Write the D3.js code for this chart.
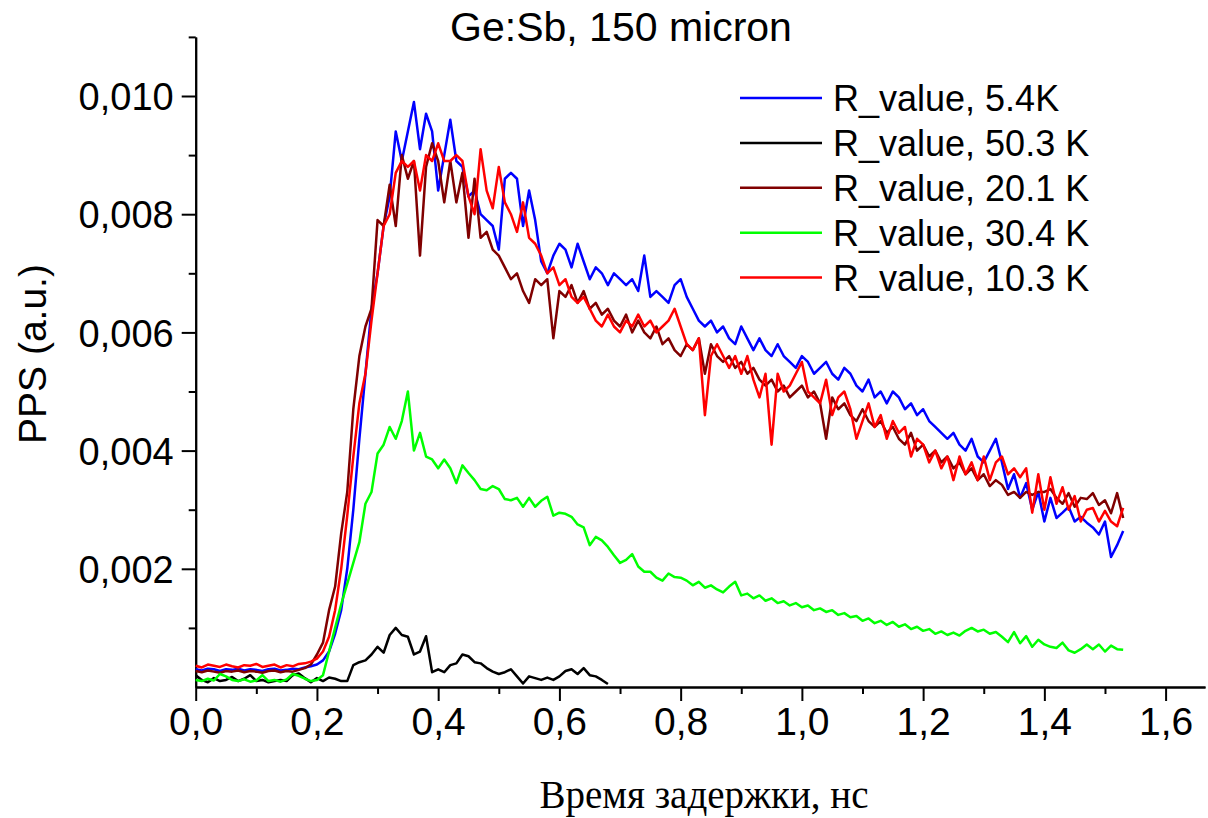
<!DOCTYPE html>
<html lang="ru">
<head>
<meta charset="UTF-8" />
<title>Ge:Sb, 150 micron</title>
<script src="https://cdn.jsdelivr.net/npm/d3@7"></script>
<style>
  body { margin: 0; background: #fff; }
  text { font-family: "Liberation Sans", Arial, sans-serif; fill: #000; }
  .axis path, .axis line { stroke: #000; stroke-width: 2px; }
  .series { fill: none; stroke-width: 2.5px; stroke-linejoin: round; }
</style>
</head>
<body>
<svg id="chart" width="1208" height="818"></svg>
<script>
// delay time, ns
var delay = [
  0.00,0.01,0.02,0.03,0.04,0.05,0.06,0.07,0.08,0.09,
  0.10,0.11,0.12,0.13,0.14,0.15,0.16,0.17,0.18,0.19,
  0.20,0.21,0.22,0.23,0.24,0.25,0.26,0.27,0.28,0.29,
  0.30,0.31,0.32,0.33,0.34,0.35,0.36,0.37,0.38,0.39,
  0.40,0.41,0.42,0.43,0.44,0.45,0.46,0.47,0.48,0.49,
  0.50,0.51,0.52,0.53,0.54,0.55,0.56,0.57,0.58,0.59,
  0.60,0.61,0.62,0.63,0.64,0.65,0.66,0.67,0.68,0.69,
  0.70,0.71,0.72,0.73,0.74,0.75,0.76,0.77,0.78,0.79,
  0.80,0.81,0.82,0.83,0.84,0.85,0.86,0.87,0.88,0.89,
  0.90,0.91,0.92,0.93,0.94,0.95,0.96,0.97,0.98,0.99,
  1.00,1.01,1.02,1.03,1.04,1.05,1.06,1.07,1.08,1.09,
  1.10,1.11,1.12,1.13,1.14,1.15,1.16,1.17,1.18,1.19,
  1.20,1.21,1.22,1.23,1.24,1.25,1.26,1.27,1.28,1.29,
  1.30,1.31,1.32,1.33,1.34,1.35,1.36,1.37,1.38,1.39,
  1.40,1.41,1.42,1.43,1.44,1.45,1.46,1.47,1.48,1.49,
  1.50,1.51,1.52,1.53
];

// PPS values, in units of 1e-3
var pps54 = [
  0.30,0.28,0.31,0.30,0.27,0.30,0.29,0.31,0.28,0.30,0.29,0.27,0.30,0.31,0.28,0.29,0.31,0.30,0.33,0.35,
  0.38,0.45,0.6,0.9,1.3,2.0,3.0,4.2,5.3,6.4,
  7.0,7.8,8.3,9.4,8.9,9.4,9.9,9.1,9.7,9.4,
  8.4,9.0,9.6,8.9,8.8,8.3,8.4,8.0,7.9,7.8,
  7.4,8.6,8.7,8.6,7.8,8.4,7.9,7.2,7.0,7.3,
  7.5,7.4,7.1,7.5,7.2,6.9,7.1,7.0,6.8,7.0,
  6.9,6.8,6.9,6.7,7.3,6.6,6.7,6.6,6.5,6.8,
  6.9,6.6,6.4,6.2,6.1,6.2,6.0,6.1,5.9,5.8,
  6.1,5.9,5.7,5.9,5.7,5.6,5.8,5.6,5.5,5.4,
  5.6,5.5,5.3,5.4,5.5,5.3,5.2,5.4,5.3,5.1,
  5.0,5.2,4.9,5.0,4.8,5.0,4.9,4.7,4.8,4.6,
  4.7,4.5,4.4,4.3,4.2,4.3,4.1,4.0,4.2,3.9,
  3.8,4.0,4.2,3.8,3.35,3.6,3.2,3.45,3.0,3.3,
  2.8,3.2,2.86,2.95,3.05,2.8,2.88,2.78,2.7,2.58,
  2.8,2.2,2.4,2.64
];

var pps503 = [
  0.20,0.12,0.08,0.15,0.10,0.12,0.17,0.10,0.14,0.20,
  0.10,0.12,0.08,0.10,0.12,0.10,0.20,0.23,0.15,0.08,
  0.15,0.10,0.16,0.14,0.10,0.10,0.37,0.42,0.45,0.55,
  0.68,0.58,0.88,1.0,0.88,0.85,0.55,0.6,0.86,0.25,
  0.3,0.25,0.37,0.4,0.55,0.52,0.42,0.4,0.32,0.26,
  0.22,0.25,0.3,0.18,0.06,0.18,0.15,0.12,0.16,0.12,
  0.18,0.27,0.3,0.22,0.32,0.2,0.18,0.12,0.05
];

var pps201 = [
  0.27,0.25,0.28,0.26,0.24,0.27,0.26,0.28,0.25,0.27,0.26,0.24,0.27,0.28,0.25,0.27,0.26,0.29,0.32,0.38,
  0.55,0.75,1.3,1.7,2.6,3.3,4.7,5.6,6.1,6.4,
  7.9,7.8,8.5,7.8,9.0,8.6,8.9,7.3,8.8,9.2,
  8.9,8.2,8.9,8.2,8.7,7.6,8.6,7.6,7.7,7.4,
  7.3,7.1,6.9,7.0,6.7,6.5,6.9,6.8,6.9,5.9,
  6.7,6.6,6.8,6.5,6.7,6.4,6.5,6.3,6.4,6.2,
  6.1,6.3,6.0,6.2,6.0,5.9,6.1,5.8,5.9,5.7,
  5.6,5.8,5.7,5.9,5.3,5.8,5.6,5.5,5.6,5.4,
  5.5,5.3,5.4,5.2,5.1,5.2,5.0,5.1,4.9,5.0,
  5.1,4.9,5.0,4.8,4.2,4.9,4.7,4.8,4.6,4.5,
  4.7,4.5,4.4,4.5,4.3,4.4,4.2,4.1,4.3,4.0,
  4.1,3.9,4.0,3.8,3.9,3.7,3.8,3.6,3.7,3.5,
  3.6,3.4,3.5,3.42,3.25,3.3,3.2,3.3,3.25,3.3,
  3.3,3.35,3.2,3.1,3.28,3.05,3.2,3.18,3.28,3.08,
  3.16,2.94,3.28,2.86
];

var pps304 = [
  0.12,0.10,0.14,0.11,0.22,0.18,0.12,0.10,0.13,0.09,0.11,0.20,0.10,0.12,0.09,0.13,0.22,0.19,0.14,0.10,0.12,
  0.2,0.6,1.0,1.4,1.75,2.1,2.45,3.1,3.3,
  3.95,4.1,4.4,4.2,4.5,5.0,4.0,4.3,3.9,3.85,
  3.7,3.85,3.7,3.45,3.75,3.62,3.5,3.35,3.33,3.4,
  3.35,3.18,3.16,3.2,3.05,3.2,3.05,3.15,3.22,2.9,
  2.95,2.93,2.88,2.75,2.7,2.4,2.54,2.48,2.37,2.23,
  2.1,2.15,2.25,2.04,1.95,1.95,1.85,1.8,1.92,1.86,
  1.85,1.8,1.72,1.78,1.68,1.72,1.65,1.6,1.7,1.78,
  1.55,1.58,1.5,1.55,1.46,1.5,1.42,1.45,1.38,1.42,
  1.35,1.38,1.3,1.33,1.27,1.3,1.22,1.25,1.18,1.2,
  1.12,1.16,1.08,1.12,1.05,1.1,1.02,1.06,0.98,1.02,
  0.95,0.98,0.9,0.94,0.88,0.92,0.87,0.95,1.0,0.94,
  0.97,0.9,0.93,0.85,0.76,0.93,0.74,0.86,0.68,0.8,
  0.72,0.68,0.66,0.75,0.62,0.58,0.64,0.72,0.64,0.72,
  0.6,0.7,0.64,0.63
];

var pps103 = [
  0.36,0.33,0.38,0.36,0.34,0.38,0.35,0.33,0.37,0.36,0.39,0.34,0.36,0.38,0.33,0.37,0.35,0.39,0.40,0.43,
  0.48,0.6,0.85,1.3,2.0,2.9,3.9,4.8,5.3,6.2,
  7.0,7.8,8.0,8.7,8.9,8.8,8.9,8.4,9.0,8.9,
  9.2,8.9,8.9,9.0,8.9,8.3,8.0,9.1,8.4,8.1,
  8.8,8.2,8.0,7.7,8.2,7.6,7.5,7.3,7.0,7.1,
  6.8,6.9,6.6,6.5,6.6,6.4,6.2,6.1,6.3,6.1,
  6.0,6.2,6.1,6.3,6.1,6.2,6.0,6.1,6.2,6.4,
  6.1,5.8,5.7,5.9,4.6,5.6,5.8,5.6,5.4,5.6,
  5.3,5.6,5.2,4.9,5.3,4.1,5.3,5.0,5.1,5.3,
  5.5,5.0,4.9,4.8,5.2,4.6,4.9,5.0,4.7,4.2,
  4.5,4.8,4.4,4.6,4.2,4.5,4.3,4.4,3.9,4.2,
  4.1,3.8,4.0,3.7,3.9,3.5,3.9,3.6,3.8,3.5,
  3.9,3.5,3.8,3.9,3.6,3.7,3.55,3.7,2.95,3.6,
  3.0,3.55,3.1,3.38,3.0,3.23,2.8,3.0,3.03,2.8,
  2.98,2.8,2.72,3.03
];

var seriesNames = ["R_value, 5.4K", "R_value, 50.3 K", "R_value, 20.1 K", "R_value, 30.4 K", "R_value, 10.3 K"];
var seriesColors = ["#0000ff", "#000000", "#800000", "#00ff00", "#ff0000"];
var seriesValues = [pps54, pps503, pps201, pps304, pps103];

var xTicks = [0, 0.2, 0.4, 0.6, 0.8, 1.0, 1.2, 1.4, 1.6];
var xMinor = [0.1, 0.3, 0.5, 0.7, 0.9, 1.1, 1.3, 1.5];
var yTicks = [0.002, 0.004, 0.006, 0.008, 0.010];
var yMinor = [0.001, 0.003, 0.005, 0.007, 0.009, 0.011];

var svg = d3.select("#chart");

var x = d3.scaleLinear().domain([0, 1.665]).range([195.7, 1205]);
var y = d3.scaleLinear().domain([0, 0.011]).range([687, 36.9]);

var commaFmt = function(p) {
  return function(d) { return d3.format("." + p + "f")(d).replace(".", ","); };
};

// minor ticks
svg.append("g")
  .attr("class", "axis")
  .attr("transform", "translate(0," + y(0) + ")")
  .call(d3.axisBottom(x).tickValues(xMinor).tickSize(7).tickSizeOuter(0).tickFormat(""));
svg.append("g")
  .attr("class", "axis")
  .attr("transform", "translate(" + x(0) + ",0)")
  .call(d3.axisLeft(y).tickValues(yMinor).tickSize(7).tickSizeOuter(0).tickFormat(""));

// major ticks
var xAxis = svg.append("g")
  .attr("class", "axis")
  .attr("transform", "translate(0," + y(0) + ")")
  .call(d3.axisBottom(x).tickValues(xTicks).tickSize(14).tickSizeOuter(0).tickFormat(commaFmt(1)));
xAxis.selectAll("text")
  .attr("y", 48).attr("dy", 0)
  .style("font-size", "39px");

var yAxis = svg.append("g")
  .attr("class", "axis")
  .attr("transform", "translate(" + x(0) + ",0)")
  .call(d3.axisLeft(y).tickValues(yTicks).tickSize(14).tickSizeOuter(0).tickFormat(commaFmt(3)));
yAxis.selectAll("text")
  .attr("x", -22).attr("dy", "0.36em")
  .style("font-size", "38px");

svg.selectAll(".axis text").style("font-family", "'Liberation Sans', Arial, sans-serif").attr("fill", "#000");

// data lines
var line = d3.line()
  .x(function(d, i) { return x(delay[i]); })
  .y(function(d) { return y(d / 1000); });

svg.append("g")
  .selectAll("path")
  .data(seriesValues)
  .enter()
  .append("path")
  .attr("class", "series")
  .attr("stroke", function(d, i) { return seriesColors[i]; })
  .attr("d", line);

// legend
var legend = svg.append("g")
  .selectAll("g")
  .data(seriesNames)
  .enter()
  .append("g")
  .attr("transform", function(d, i) { return "translate(740," + (98 + i * 44.9) + ")"; });

legend.append("line")
  .attr("x1", 0).attr("x2", 82)
  .attr("stroke", function(d, i) { return seriesColors[i]; })
  .attr("stroke-width", 2.5);

legend.append("text")
  .attr("x", 93)
  .attr("y", 13)
  .style("font-size", "36px")
  .text(function(d) { return d; });

// titles
svg.append("text")
  .attr("x", 621)
  .attr("y", 41)
  .attr("text-anchor", "middle")
  .style("font-size", "41px")
  .text("Ge:Sb, 150 micron");

svg.append("text")
  .attr("transform", "translate(46,354) rotate(-90)")
  .attr("text-anchor", "middle")
  .style("font-size", "39px")
  .text("PPS (a.u.)");

svg.append("text")
  .attr("x", 704)
  .attr("y", 808)
  .attr("text-anchor", "middle")
  .style("font-family", "'Liberation Serif', 'Times New Roman', serif")
  .style("font-size", "39px")
  .text("Время задержки, нс");
</script>
</body>
</html>
